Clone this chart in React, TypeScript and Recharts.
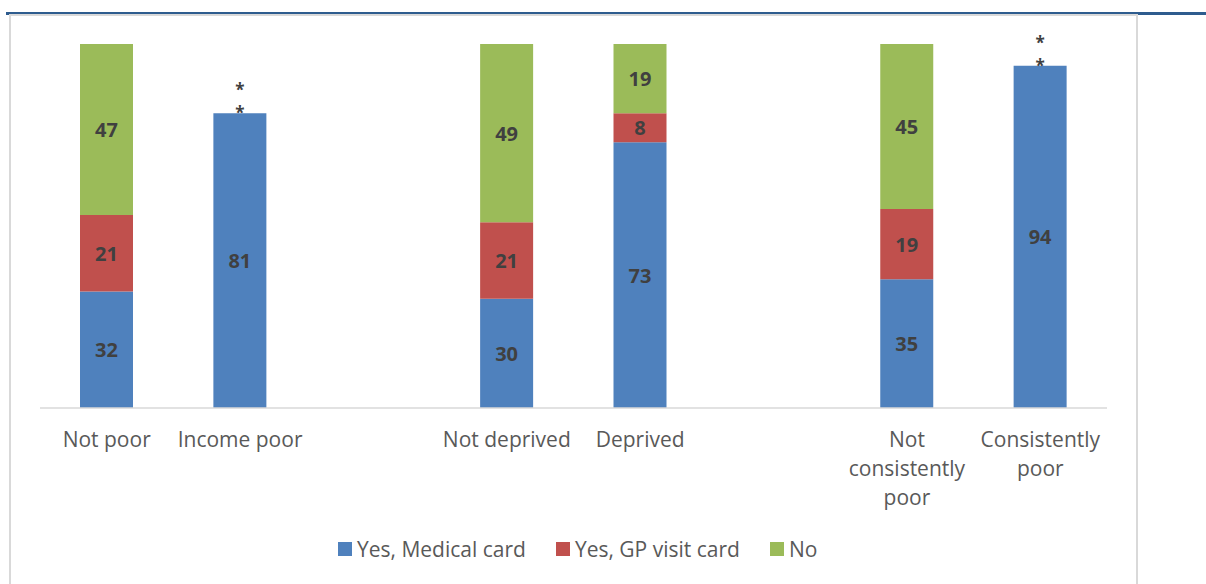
import React from 'react';
import { BarChart, Bar, XAxis, YAxis, LabelList } from 'recharts';

const categories = [
  'Not poor',
  'Income poor',
  '',
  'Not deprived',
  'Deprived',
  '',
  'Not\nconsistently\npoor',
  'Consistently\npoor',
];
const medicalCard = [32, 81, null, 30, 73, null, 35.4, 94];
const gpVisitCard = [21, null, null, 21, 8, null, 19.3, null];
const noCard = [47, null, null, 49, 19, null, 45.3, null];
// categories where the GP / No figures were suppressed (shown as *)
const suppressed = [false, true, false, false, false, false, false, true];

const BLUE = '#4F81BD';
const RED = '#C0504D';
const GREEN = '#9BBB59';
const FONT = '"Open Sans", sans-serif';

const data = categories.map((name, i) => ({
  name,
  medical: medicalCard[i],
  gp: gpVisitCard[i],
  no: noCard[i],
  stars: suppressed[i] ? '*' : null,
}));

const CategoryTick = (props: any) => {
  const { x, y, payload } = props;
  const lines = String(payload.value).split('\n');
  return (
    <text x={x} y={y + 31} textAnchor="middle" fill="#595959" fontSize={21} fontFamily={FONT}>
      {lines.map((l, i) => (
        <tspan key={i} x={x} dy={i === 0 ? 0 : 29}>
          {l}
        </tspan>
      ))}
    </text>
  );
};

const valueLabel = (props: any) => {
  const { x, y, width, height, value } = props;
  if (value == null) return null;
  return (
    <text
      x={x + width / 2}
      y={y + height / 2}
      textAnchor="middle"
      dominantBaseline="central"
      fill="#404040"
      fontSize={20}
      fontWeight="bold"
      fontFamily={FONT}
    >
      {Math.round(value)}
    </text>
  );
};

// two stacked asterisks above the bar, one per suppressed series
const starLabel = (props: any) => {
  const { x, y, width, value } = props;
  if (!value) return null;
  const cx = x + width / 2;
  return (
    <g fill="#404040" fontSize={17} fontWeight="bold" fontFamily={FONT}>
      <text x={cx} y={y - 17} textAnchor="middle">
        {value}
      </text>
      <text x={cx} y={y + 6} textAnchor="middle">
        {value}
      </text>
    </g>
  );
};

const legendItems = [
  { label: 'Yes, Medical card', color: BLUE },
  { label: 'Yes, GP visit card', color: RED },
  { label: 'No', color: GREEN },
];

export default function App() {
  return (
    <div style={{ position: 'absolute', left: 0, top: 0, width: 1206, height: 584, overflow: 'hidden', background: '#fff' }}>
      <div style={{ position: 'absolute', left: 6, top: 12, width: 1200, height: 2.5, background: '#2E5C8E' }} />
      <div
        style={{
          position: 'absolute',
          left: 9,
          top: 14,
          width: 1125,
          height: 600,
          borderLeft: '2px solid #d9d9d9',
          borderRight: '2px solid #d9d9d9',
          borderTop: '2px solid #d9d9d9',
        }}
      />
      <div style={{ position: 'absolute', left: 0, top: 0 }}>
        <BarChart
          width={1206}
          height={584}
          data={data}
          margin={{ top: 44, right: 99, bottom: 76, left: 40 }}
          barSize={53}
        >
          <XAxis
            dataKey="name"
            height={100}
            tickLine={false}
            axisLine={{ stroke: '#d9d9d9', strokeWidth: 1.5 }}
            tick={<CategoryTick />}
            interval={0}
          />
          <YAxis hide domain={[0, 100]} />
          <Bar dataKey="medical" stackId="a" fill={BLUE} isAnimationActive={false}>
            <LabelList dataKey="medical" content={valueLabel} />
            <LabelList dataKey="stars" content={starLabel} />
          </Bar>
          <Bar dataKey="gp" stackId="a" fill={RED} isAnimationActive={false}>
            <LabelList dataKey="gp" content={valueLabel} />
          </Bar>
          <Bar dataKey="no" stackId="a" fill={GREEN} isAnimationActive={false}>
            <LabelList dataKey="no" content={valueLabel} />
          </Bar>
        </BarChart>
      </div>
      <div style={{ position: 'absolute', left: 338, top: 535, display: 'flex', alignItems: 'center', fontFamily: FONT, fontSize: 21, color: '#595959' }}>
        {legendItems.map((it, i) => (
          <div key={it.label} style={{ display: 'flex', alignItems: 'center', marginRight: i < legendItems.length - 1 ? 30 : 0 }}>
            <span style={{ display: 'inline-block', width: 14, height: 14, background: it.color, marginRight: 5 }} />
            <span>{it.label}</span>
          </div>
        ))}
      </div>
    </div>
  );
}
